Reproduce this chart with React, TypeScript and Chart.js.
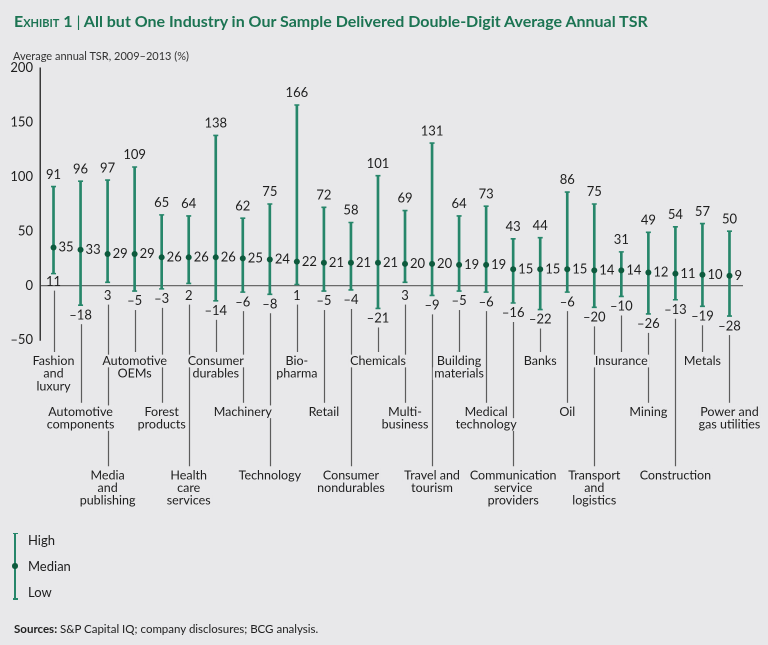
import React, { useEffect, useRef } from 'react';
import { Chart, registerables } from 'chart.js';

Chart.register(...registerables);

// ---------- data ----------
const categories: string[][] = [
  ['Fashion', 'and', 'luxury'],
  ['Automotive', 'components'],
  ['Media', 'and', 'publishing'],
  ['Automotive', 'OEMs'],
  ['Forest', 'products'],
  ['Health', 'care', 'services'],
  ['Consumer', 'durables'],
  ['Machinery'],
  ['Technology'],
  ['Bio-', 'pharma'],
  ['Retail'],
  ['Consumer', 'nondurables'],
  ['Chemicals'],
  ['Multi-', 'business'],
  ['Travel and', 'tourism'],
  ['Building', 'materials'],
  ['Medical', 'technology'],
  ['Communication', 'service', 'providers'],
  ['Banks'],
  ['Oil'],
  ['Transport', 'and', 'logistics'],
  ['Insurance'],
  ['Mining'],
  ['Construction'],
  ['Metals'],
  ['Power and', 'gas utilities'],
];
const highValues = [91, 96, 97, 109, 65, 64, 138, 62, 75, 166, 72, 58, 101, 69, 131, 64, 73, 43, 44, 86, 75, 31, 49, 54, 57, 50];
const medianValues = [35, 33, 29, 29, 26, 26, 26, 25, 24, 22, 21, 21, 21, 20, 20, 19, 19, 15, 15, 15, 14, 14, 12, 11, 10, 9];
const lowValues = [11, -18, 3, -5, -3, 2, -14, -6, -8, 1, -5, -4, -21, 3, -9, -5, -6, -16, -22, -6, -20, -10, -26, -13, -19, -28];
const yTickValues = [-50, 0, 50, 100, 150, 200];
const legendItems = ['High', 'Median', 'Low'];

// ---------- style ----------
const FONT = "Lato, 'Open Sans', sans-serif";
const BG = '#e8e8ea';
const GREEN = '#26866a';
const DARK_GREEN = '#0d5a3d';
const TITLE_GREEN = '#1c7453';
const TEXT = '#1e1e1e';
const LEADER = '#5c5c5c';

const fmt = (v: number) => (v < 0 ? '\u2013' + Math.abs(v) : String(v));

const annotatePlugin = {
  id: 'annotate',
  afterDatasetsDraw(chart: any) {
    const { ctx, chartArea } = chart;
    const x = chart.scales.x;
    const y = chart.scales.y;
    const zero = y.getPixelForValue(0);
    const lowLabelY: number[] = [];
    ctx.save();
    ctx.fillStyle = TEXT;
    ctx.font = `13px ${FONT}`;
    ctx.textBaseline = 'middle';
    categories.forEach((_, i) => {
      const px = x.getPixelForValue(i);
      const hi = y.getPixelForValue(highValues[i]);
      const md = y.getPixelForValue(medianValues[i]);
      const lo = y.getPixelForValue(lowValues[i]);
      ctx.textAlign = 'center';
      ctx.fillText(fmt(highValues[i]), px, hi - 12);
      ctx.textAlign = 'left';
      ctx.fillText(fmt(medianValues[i]), px + 5, md);
      const ly = lowValues[i] >= 5 ? lo + 8 : Math.max(lo, zero) + 10;
      ctx.textAlign = 'center';
      ctx.fillText(fmt(lowValues[i]), px, ly);
      lowLabelY[i] = ly;
    });

    const lh = 12.7;
    const tierLines = [0, 4, 9];
    const firstY = chartArea.bottom + 21;

    ctx.strokeStyle = LEADER;
    ctx.lineWidth = 1.2;
    categories.forEach((_, i) => {
      const px = Math.round(x.getPixelForValue(i)) + 0.5;
      const ty = firstY + tierLines[i % 3] * lh;
      ctx.beginPath();
      ctx.moveTo(px, lowLabelY[i] + 9);
      ctx.lineTo(px, ty - 9);
      ctx.stroke();
    });

    ctx.font = `12.5px ${FONT}`;
    ctx.textAlign = 'center';
    categories.forEach((lines, i) => {
      const px = x.getPixelForValue(i);
      const ty = firstY + tierLines[i % 3] * lh;
      lines.forEach((t, k) => {
        const yy = ty + k * lh;
        const w = ctx.measureText(t).width;
        ctx.fillStyle = BG;
        ctx.fillRect(px - w / 2 - 1.5, yy - lh / 2, w + 3, lh);
        ctx.fillStyle = TEXT;
        ctx.fillText(t, px, yy);
      });
    });
    ctx.restore();
  },
};

export default function App() {
  const ref = useRef<HTMLCanvasElement>(null);

  useEffect(() => {
    if (!ref.current) return;
    const chart = new Chart(ref.current, {
      type: 'bar',
      data: {
        labels: categories.map((c) => c.join(' ')),
        datasets: [
          {
            type: 'bar',
            data: lowValues.map((l, i) => [l, highValues[i]]) as any,
            backgroundColor: GREEN,
            borderWidth: 0,
            barThickness: 2,
            order: 4,
          },
          {
            type: 'line',
            data: highValues,
            showLine: false,
            pointStyle: 'line',
            pointRadius: 2.5,
            pointBorderWidth: 1.6,
            pointBorderColor: GREEN,
            order: 3,
          },
          {
            type: 'line',
            data: lowValues,
            showLine: false,
            pointStyle: 'line',
            pointRadius: 2.5,
            pointBorderWidth: 1.6,
            pointBorderColor: GREEN,
            order: 2,
          },
          {
            type: 'line',
            data: medianValues,
            showLine: false,
            pointStyle: 'circle',
            pointRadius: 3,
            pointBorderWidth: 0,
            pointBackgroundColor: DARK_GREEN,
            order: 1,
          },
        ] as any,
      },
      options: {
        animation: false,
        responsive: false,
        devicePixelRatio: 2,
        events: [],
        layout: { padding: { top: 68, bottom: 305, left: 0, right: 25 } },
        plugins: { legend: { display: false }, tooltip: { enabled: false } },
        scales: {
          x: {
            display: false,
            offset: true,
          },
          y: {
            min: -50,
            max: 200,
            afterFit: (scale: any) => {
              scale.width = 40;
            },
            afterBuildTicks: (scale: any) => {
              scale.ticks = yTickValues.map((v) => ({ value: v }));
            },
            border: { display: true, color: '#3a3a3a', width: 1.5 },
            grid: {
              drawTicks: false,
              color: (c: any) => (c.tick && c.tick.value === 0 ? '#6a6a6a' : 'rgba(0,0,0,0)'),
              lineWidth: 1.2,
            },
            ticks: {
              padding: 7,
              color: TEXT,
              font: { family: FONT, size: 13 },
              callback: (v: any) => fmt(Number(v)),
            },
          },
        },
      },
      plugins: [annotatePlugin],
    });
    return () => chart.destroy();
  }, []);

  const legendY = [540, 566, 592];

  return (
    <div
      style={{
        position: 'absolute',
        left: 0,
        top: 0,
        width: 768,
        height: 645,
        background: BG,
        overflow: 'hidden',
        fontFamily: FONT,
        color: TEXT,
      }}
    >
      <canvas
        ref={ref}
        width={768}
        height={645}
        style={{ position: 'absolute', left: 0, top: 0, width: 768, height: 645 }}
      />
      <div
        style={{
          position: 'absolute',
          left: 14,
          top: 10.5,
          fontSize: 16,
          lineHeight: '20px',
          fontWeight: 700,
          color: TITLE_GREEN,
          whiteSpace: 'nowrap',
        }}
      >
        <span style={{ fontVariant: 'small-caps' }}>Exhibit 1</span>{' '}
        <span style={{ fontWeight: 400 }}>|</span> All but One Industry in Our Sample Delivered Double-Digit
        Average Annual TSR
      </div>
      <div
        style={{
          position: 'absolute',
          left: 13,
          top: 49,
          fontSize: 11,
          lineHeight: '14px',
          color: '#333',
          whiteSpace: 'nowrap',
        }}
      >
        Average annual TSR, 2009–2013 (%)
      </div>

      {/* legend */}
      <div style={{ position: 'absolute', left: 14.25, top: 533, width: 1.6, height: 66, background: GREEN }} />
      <div style={{ position: 'absolute', left: 12.5, top: 532.5, width: 5, height: 1.6, background: GREEN }} />
      <div style={{ position: 'absolute', left: 12.5, top: 598, width: 5, height: 1.6, background: GREEN }} />
      <div
        style={{
          position: 'absolute',
          left: 12,
          top: 563,
          width: 6,
          height: 6,
          borderRadius: '50%',
          background: DARK_GREEN,
        }}
      />
      {legendItems.map((t, i) => (
        <div
          key={t}
          style={{
            position: 'absolute',
            left: 28,
            top: legendY[i] - 8,
            fontSize: 13,
            lineHeight: '16px',
            whiteSpace: 'nowrap',
          }}
        >
          {t}
        </div>
      ))}

      <div
        style={{
          position: 'absolute',
          left: 14,
          top: 622,
          fontSize: 11.5,
          lineHeight: '14px',
          whiteSpace: 'nowrap',
          color: '#222',
        }}
      >
        <b>Sources:</b> S&amp;P Capital IQ; company disclosures; BCG analysis.
      </div>
    </div>
  );
}
